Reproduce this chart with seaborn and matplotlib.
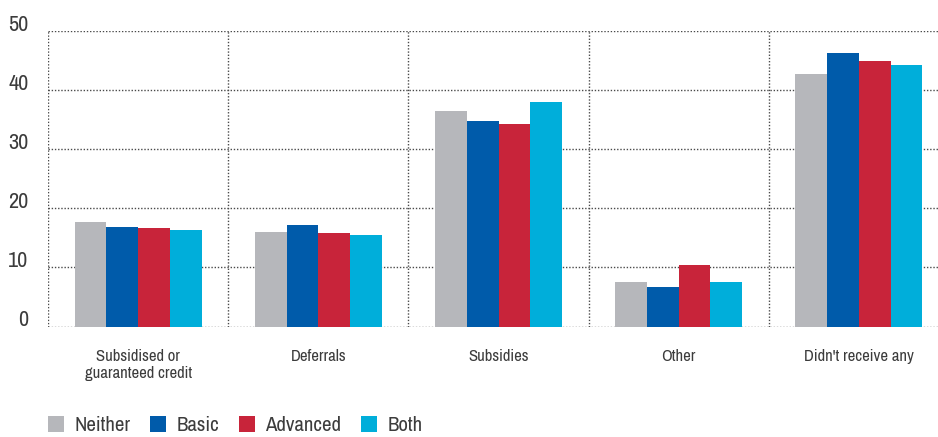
import matplotlib
matplotlib.use("Agg")
import matplotlib.pyplot as plt
from matplotlib import font_manager as fm
import seaborn as sns
import pandas as pd
from matplotlib.patches import Patch

categories = ["Subsidised or\nguaranteed credit", "Deferrals", "Subsidies", "Other", "Didn't receive any"]
series = ["Neither", "Basic", "Advanced", "Both"]
neither = [17.7, 16.0, 36.5, 7.5, 42.8]
basic = [16.8, 17.2, 34.8, 6.6, 46.3]
advanced = [16.7, 15.8, 34.3, 10.4, 45.0]
both = [16.3, 15.5, 38.0, 7.5, 44.3]
colors = ["#B6B7BB", "#005BAA", "#C8243A", "#00AEDA"]
yticks = [0, 10, 20, 30, 40, 50]

rows = []
for s, vals in zip(series, [neither, basic, advanced, both]):
    for c, v in zip(categories, vals):
        rows.append({"cat": c, "series": s, "value": v})
df = pd.DataFrame(rows)

sns.set_theme(style="white")

# find a condensed / narrow font if one is installed
cond_family = None
cond_stretch = None
for f in fm.fontManager.ttflist:
    nm = f.name
    if ("Narrow" in nm or "Condensed" in nm) and f.style == "normal":
        cond_family = nm
        break
if cond_family is None:
    for f in fm.fontManager.ttflist:
        if f.stretch in ("condensed", "semi-condensed", 600, 700) or (isinstance(f.stretch, int) and f.stretch < 500):
            cond_family = f.name
            cond_stretch = f.stretch
            break
fams = [cond_family] if cond_family else []
fams += ["DejaVu Sans"]
plt.rcParams["font.family"] = fams
if cond_stretch is not None:
    plt.rcParams["font.stretch"] = cond_stretch
narrow = cond_family is not None
scale = 1.0 if narrow else 0.8
txt = "#3C3C3C"

fig = plt.figure(figsize=(9.38, 4.37), dpi=100)
ax = fig.add_axes([48 / 938, 110.5 / 437, 901 / 938, 295.5 / 437])
sns.barplot(data=df, x="cat", y="value", hue="series", order=categories,
            hue_order=series, palette=colors, width=0.705, gap=0,
            saturation=1, ax=ax, legend=False, edgecolor="none", linewidth=0)

ax.set_xlim(-0.5, 4.5)
ax.set_ylim(0, 50)
for sp in ax.spines.values():
    sp.set_visible(False)
grid_kw = dict(color="#4A4A4A", linestyle=(0, (1, 1.3)), linewidth=1.0, zorder=0)
for y in yticks:
    ax.axhline(y, **grid_kw)
for x in [-0.5, 0.5, 1.5, 2.5, 3.5, 4.5]:
    ax.axvline(x, **grid_kw)
ax.set_axisbelow(True)

ax.set_yticks(yticks)
ax.set_yticklabels([str(t) for t in yticks], fontsize=16 * scale, color=txt, va="baseline")
ax.tick_params(axis="y", length=0, pad=14)
ax.tick_params(axis="x", length=0, pad=16, labelsize=12 * scale, labelcolor=txt)
for lab in ax.get_xticklabels():
    lab.set_linespacing(1.15)
ax.set_xlabel("")
ax.set_ylabel("")

handles = [Patch(facecolor=c, edgecolor="none") for c in colors]
fig.legend(handles, series, loc="lower left", bbox_to_anchor=(48 / 938, 2 / 437),
           borderpad=0, borderaxespad=0,
           ncol=4, frameon=False, fontsize=15 * scale, handlelength=0.78, handleheight=0.78,
           handletextpad=0.48, columnspacing=0.95, labelcolor=txt)

fig.savefig("out.png", dpi=100)
